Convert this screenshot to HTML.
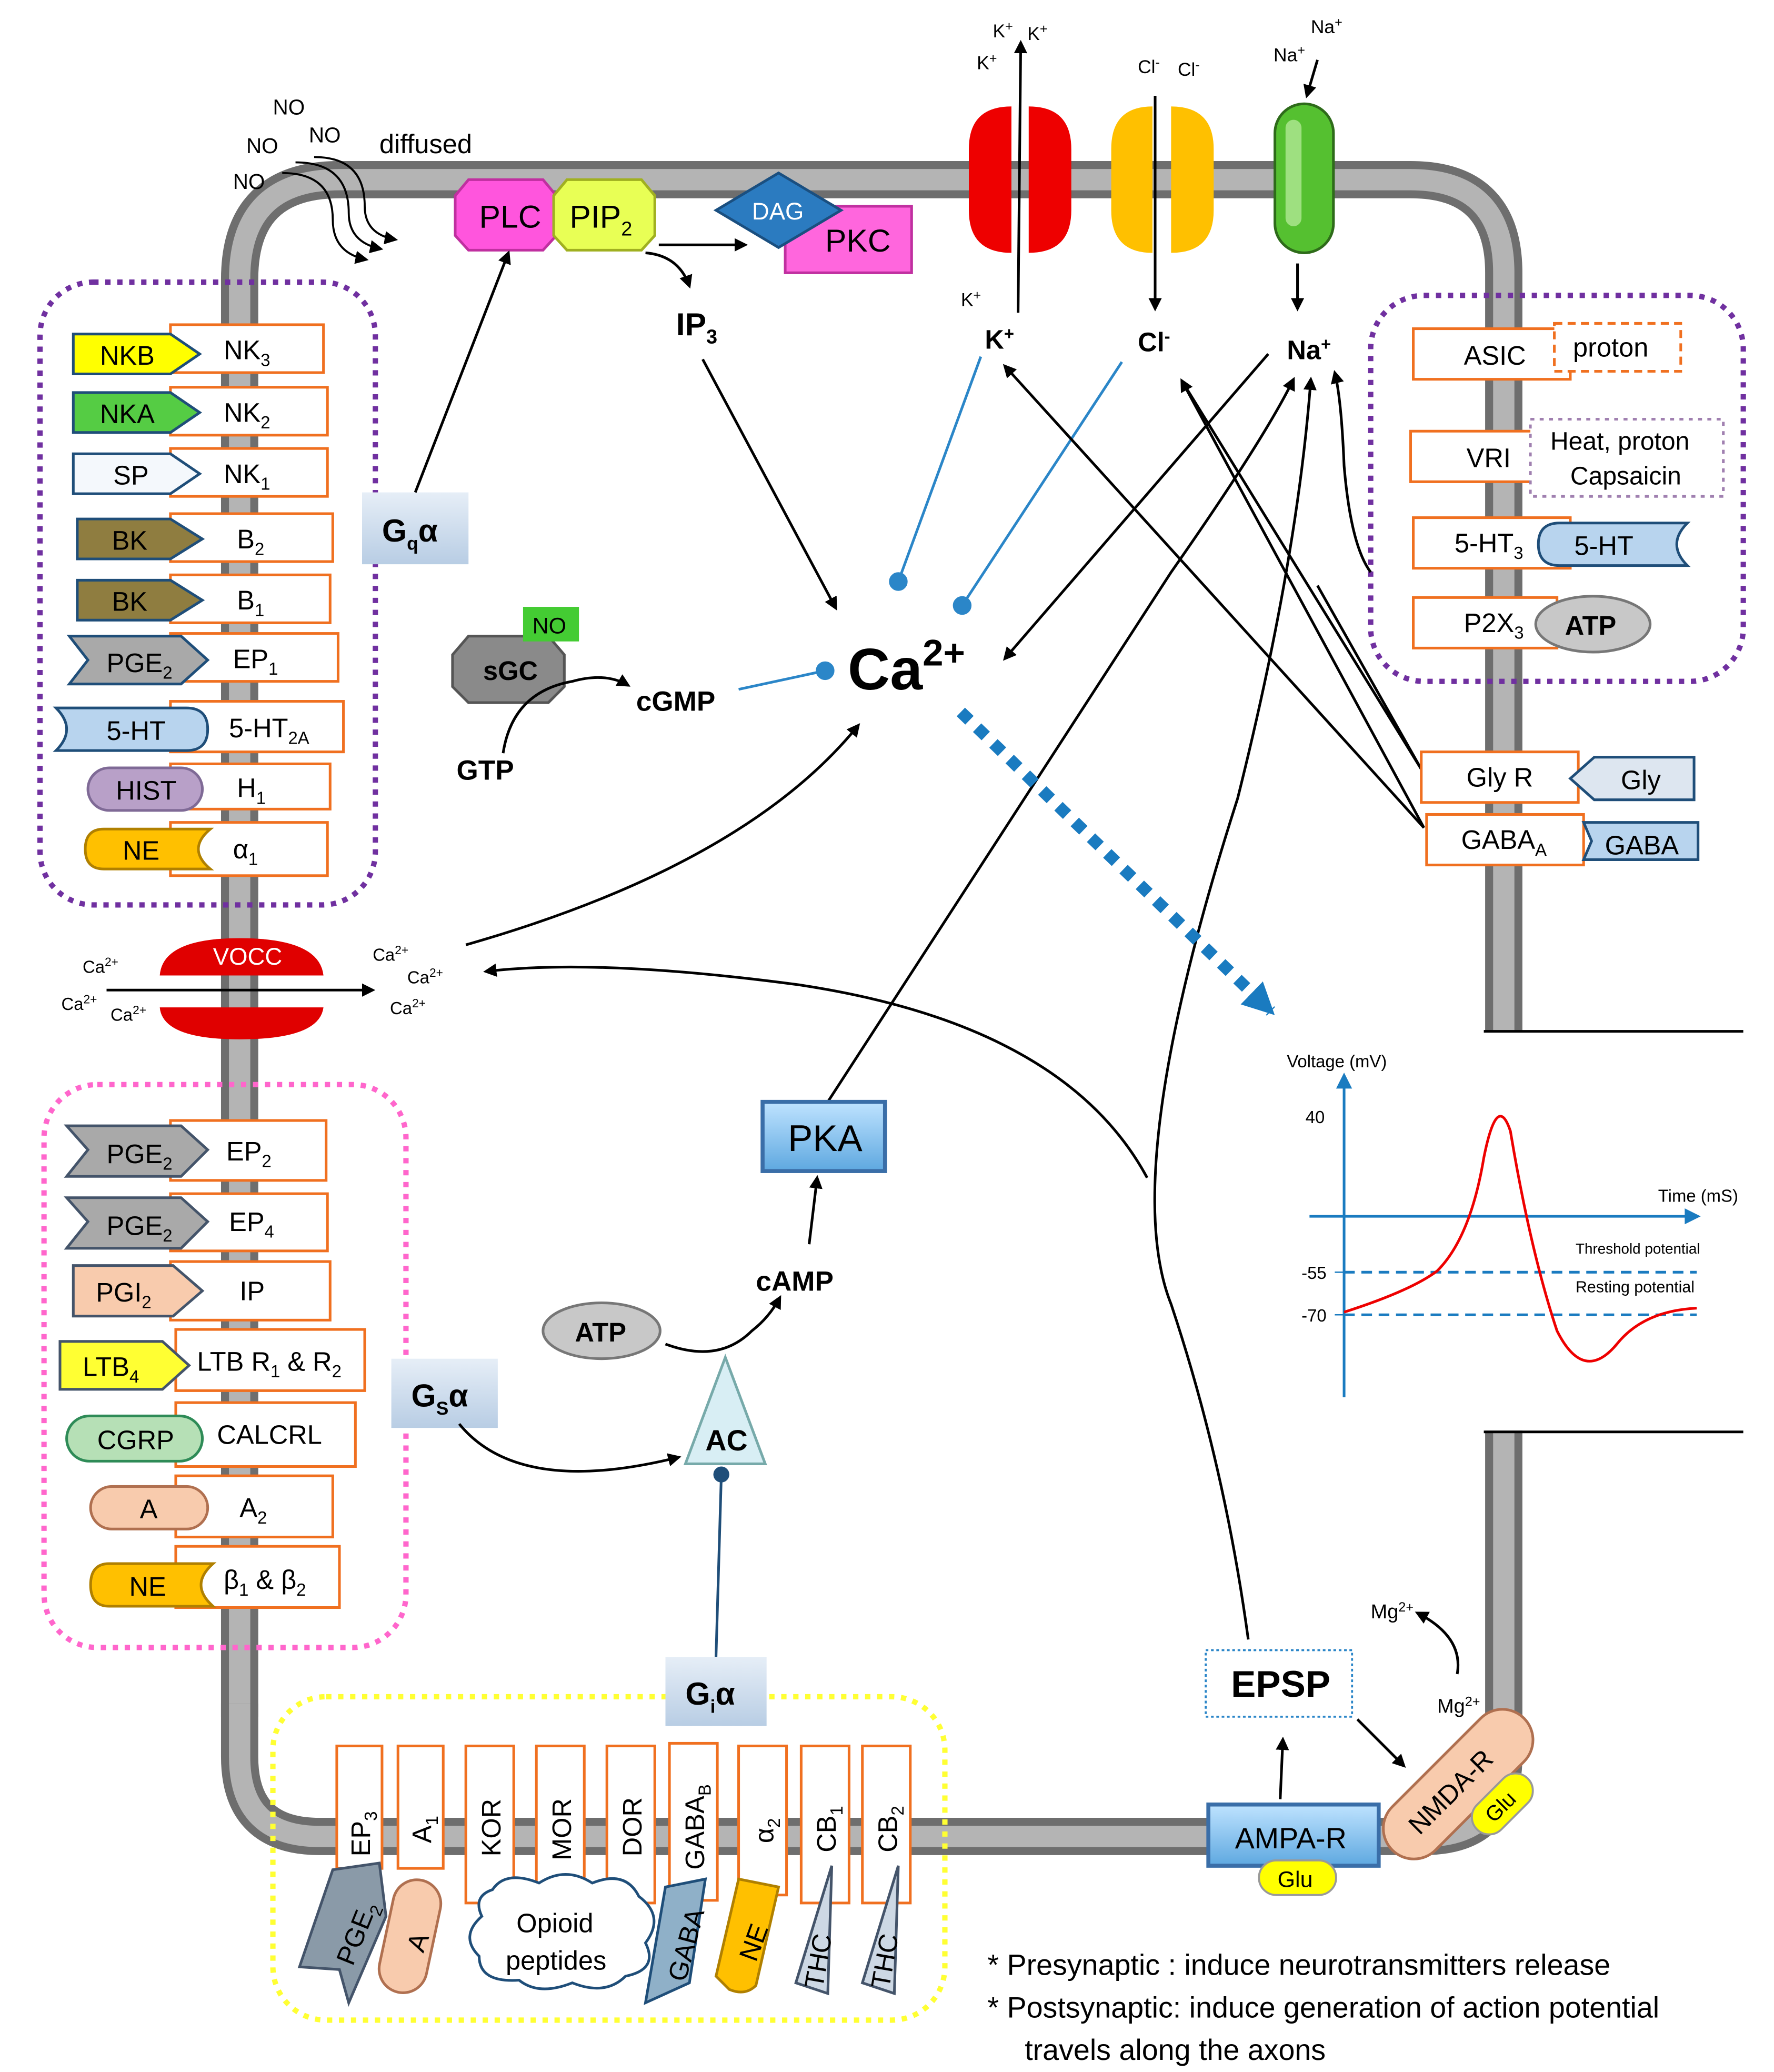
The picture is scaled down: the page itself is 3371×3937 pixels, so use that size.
<!DOCTYPE html>
<html><head><meta charset="utf-8"><style>
html,body{margin:0;padding:0;background:#fff}
svg{display:block}
text{font-family:"Liberation Sans","DejaVu Sans",sans-serif}
</style></head><body>
<svg width="3371" height="3937" viewBox="0 0 1333 1557" xmlns="http://www.w3.org/2000/svg">
<defs>
<marker id="ar" markerWidth="10" markerHeight="10" refX="8" refY="5" orient="auto" markerUnits="userSpaceOnUse"><path d="M0,0 L10,5 L0,10 z" fill="#000"/></marker>
<marker id="ab" markerWidth="24" markerHeight="24" refX="20" refY="12" orient="auto" markerUnits="userSpaceOnUse"><path d="M0,0 L24,12 L0,24 z" fill="#1a7bc0"/></marker>
<linearGradient id="gb" x1="0" y1="0" x2="0" y2="1"><stop offset="0" stop-color="#e6eef7"/><stop offset="1" stop-color="#b8cde4"/></linearGradient>
<linearGradient id="gpka" x1="0" y1="0" x2="0" y2="1"><stop offset="0" stop-color="#bfe3ff"/><stop offset="1" stop-color="#5ea8e0"/></linearGradient>
</defs>

<!-- membrane -->
<g fill="none" stroke-linejoin="round">
<path d="M180,1290 L180,210 Q180,135 255,135 L1060,135 Q1130,135 1130,205 L1130,775" stroke="#6e6e6e" stroke-width="28"/>
<path d="M180,1290 L180,210 Q180,135 255,135 L1060,135 Q1130,135 1130,205 L1130,775" stroke="#b4b4b4" stroke-width="16"/>
<path d="M1130,1075 L1130,1320 Q1130,1380 1070,1380 L240,1380 Q180,1380 180,1320 L180,1280" stroke="#6e6e6e" stroke-width="28"/>
<path d="M1130,1075 L1130,1320 Q1130,1380 1070,1380 L240,1380 Q180,1380 180,1320 L180,1280" stroke="#b4b4b4" stroke-width="16"/>
</g>
<line x1="1115" y1="775" x2="1310" y2="775" stroke="#000" stroke-width="2"/>
<line x1="1115" y1="1076" x2="1310" y2="1076" stroke="#000" stroke-width="2"/>

<!-- dotted boxes -->
<rect x="30" y="212" width="252" height="468" rx="40" fill="none" stroke="#7030a0" stroke-width="4" stroke-dasharray="4,5"/>
<rect x="33" y="815" width="272" height="423" rx="40" fill="none" stroke="#ff66cc" stroke-width="4" stroke-dasharray="4,5"/>
<rect x="205" y="1275" width="505" height="243" rx="40" fill="none" stroke="#ffff33" stroke-width="4" stroke-dasharray="4,5"/>
<rect x="1030" y="222" width="280" height="290" rx="40" fill="none" stroke="#7030a0" stroke-width="4" stroke-dasharray="4,5"/>

<!-- left top receptors -->
<g font-size="20" stroke-width="2">
<rect x="128" y="244" width="115" height="36" fill="#fff" stroke="#f07020"/><text x="168" y="270">NK<tspan font-size="13" dy="5">3</tspan></text>
<rect x="128" y="291" width="118" height="36" fill="#fff" stroke="#f07020"/><text x="168" y="317">NK<tspan font-size="13" dy="5">2</tspan></text>
<rect x="128" y="337" width="118" height="36" fill="#fff" stroke="#f07020"/><text x="168" y="363">NK<tspan font-size="13" dy="5">1</tspan></text>
<rect x="128" y="386" width="122" height="36" fill="#fff" stroke="#f07020"/><text x="178" y="412">B<tspan font-size="13" dy="5">2</tspan></text>
<rect x="128" y="432" width="120" height="36" fill="#fff" stroke="#f07020"/><text x="178" y="458">B<tspan font-size="13" dy="5">1</tspan></text>
<rect x="128" y="476" width="126" height="36" fill="#fff" stroke="#f07020"/><text x="175" y="502">EP<tspan font-size="13" dy="5">1</tspan></text>
<rect x="128" y="527" width="130" height="38" fill="#fff" stroke="#f07020"/><text x="172" y="554">5-HT<tspan font-size="13" dy="5">2A</tspan></text>
<rect x="128" y="574" width="120" height="34" fill="#fff" stroke="#f07020"/><text x="178" y="599">H<tspan font-size="13" dy="5">1</tspan></text>
<rect x="128" y="618" width="118" height="40" fill="#fff" stroke="#f07020"/><text x="175" y="645">α<tspan font-size="13" dy="5">1</tspan></text>
</g>
<g font-size="20" stroke="#1f4e79" stroke-width="2">
<path d="M55,251 H128 L150,266 L128,281 H55Z" fill="#ffff00"/>
<path d="M55,295 H128 L150,310 L128,325 H55Z" fill="#55cc44"/>
<path d="M55,341 H128 L150,356 L128,371 H55Z" fill="#f4f8fc"/>
<path d="M58,390 H128 L152,405 L128,420 H58Z" fill="#8f7d40"/>
<path d="M58,436 H128 L152,451 L128,466 H58Z" fill="#8f7d40"/>
<path d="M52,478 H136 L156,496 L136,514 H52 L66,496Z" fill="#a9a9a9"/>
<path d="M42,532 H140 Q156,532 156,548 Q156,564 140,564 H42 Q58,548 42,532Z" fill="#b8d4ee"/>
<rect x="66" y="577" width="86" height="32" rx="16" fill="#b8a0c8" stroke="#7f6a96"/>
<path d="M78,623 H158 Q140,638 158,653 H78 Q64,653 64,638 Q64,623 78,623Z" fill="#ffc000" stroke="#b08000"/>
</g>
<g font-size="20" fill="#000">
<text x="75" y="274">NKB</text><text x="75" y="318">NKA</text><text x="85" y="364">SP</text>
<text x="84" y="413">BK</text><text x="84" y="459">BK</text>
<text x="80" y="505">PGE<tspan font-size="13" dy="5">2</tspan></text>
<text x="80" y="556">5-HT</text><text x="87" y="601">HIST</text><text x="92" y="646">NE</text>
</g>

<!-- pink box receptors -->
<g font-size="20" stroke-width="2">
<rect x="128" y="842" width="117" height="45" fill="#fff" stroke="#f07020"/><text x="170" y="872">EP<tspan font-size="13" dy="5">2</tspan></text>
<rect x="128" y="897" width="118" height="43" fill="#fff" stroke="#f07020"/><text x="172" y="925">EP<tspan font-size="13" dy="5">4</tspan></text>
<rect x="128" y="948" width="120" height="44" fill="#fff" stroke="#f07020"/><text x="180" y="977">IP</text>
<rect x="132" y="999" width="142" height="46" fill="#fff" stroke="#f07020"/><text x="148" y="1030">LTB R<tspan font-size="13" dy="5">1</tspan><tspan dy="-5"> &amp; R</tspan><tspan font-size="13" dy="5">2</tspan></text>
<rect x="132" y="1054" width="135" height="48" fill="#fff" stroke="#f07020"/><text x="163" y="1085">CALCRL</text>
<rect x="132" y="1109" width="118" height="46" fill="#fff" stroke="#f07020"/><text x="180" y="1140">A<tspan font-size="13" dy="5">2</tspan></text>
<rect x="132" y="1162" width="123" height="46" fill="#fff" stroke="#f07020"/><text x="168" y="1194">β<tspan font-size="13" dy="5">1</tspan><tspan dy="-5"> &amp; β</tspan><tspan font-size="13" dy="5">2</tspan></text>
</g>
<g stroke="#44546a" stroke-width="2">
<path d="M50,846 H136 L156,864 L136,884 H50 L66,864Z" fill="#a9a9a9"/>
<path d="M50,900 H136 L156,918 L136,938 H50 L66,918Z" fill="#a9a9a9"/>
<path d="M55,951 H130 L152,970 L130,989 H55Z" fill="#f8cbad"/>
<path d="M45,1008 H122 L142,1026 L122,1044 H45Z" fill="#ffff33"/>
<rect x="50" y="1064" width="102" height="34" rx="17" fill="#b6e0b6" stroke="#2e8b57"/>
<rect x="68" y="1117" width="88" height="32" rx="16" fill="#f8cbad" stroke="#b07050"/>
<path d="M82,1175 H160 Q142,1191 160,1207 H82 Q68,1207 68,1191 Q68,1175 82,1175Z" fill="#ffc000" stroke="#b08000"/>
</g>
<g font-size="20">
<text x="80" y="874">PGE<tspan font-size="13" dy="5">2</tspan></text>
<text x="80" y="928">PGE<tspan font-size="13" dy="5">2</tspan></text>
<text x="72" y="978">PGI<tspan font-size="13" dy="5">2</tspan></text>
<text x="62" y="1034">LTB<tspan font-size="13" dy="5">4</tspan></text>
<text x="73" y="1089">CGRP</text><text x="105" y="1141">A</text><text x="97" y="1199">NE</text>
</g>

<!-- VOCC -->
<path d="M120,733 Q122,705 180,705 Q240,705 243,733Z" fill="#e00000"/>
<path d="M120,757 Q122,781 180,781 Q240,781 243,757Z" fill="#e00000"/>
<text x="160" y="725" font-size="18" fill="#fff">VOCC</text>
<line x1="80" y1="744" x2="280" y2="744" stroke="#000" stroke-width="2" marker-end="url(#ar)"/>
<g font-size="13"><text x="62" y="731">Ca<tspan font-size="9" dy="-5">2+</tspan></text><text x="46" y="759">Ca<tspan font-size="9" dy="-5">2+</tspan></text><text x="83" y="767">Ca<tspan font-size="9" dy="-5">2+</tspan></text>
<text x="280" y="722">Ca<tspan font-size="9" dy="-5">2+</tspan></text><text x="306" y="739">Ca<tspan font-size="9" dy="-5">2+</tspan></text><text x="293" y="762">Ca<tspan font-size="9" dy="-5">2+</tspan></text></g>

<!-- G proteins -->
<rect x="272" y="370" width="80" height="54" fill="url(#gb)"/><text x="287" y="407" font-size="24" font-weight="bold">G<tspan font-size="14" dy="6">q</tspan><tspan dy="-6">α</tspan></text>
<rect x="294" y="1021" width="80" height="52" fill="url(#gb)"/><text x="309" y="1057" font-size="24" font-weight="bold">G<tspan font-size="14" dy="6">S</tspan><tspan dy="-6">α</tspan></text>
<rect x="500" y="1245" width="76" height="52" fill="url(#gb)"/><text x="515" y="1281" font-size="24" font-weight="bold">G<tspan font-size="14" dy="6">i</tspan><tspan dy="-6">α</tspan></text>

<!-- NO -->
<g font-size="16"><text x="205" y="86">NO</text><text x="185" y="115">NO</text><text x="232" y="107">NO</text><text x="175" y="142">NO</text></g>
<text x="285" y="115" font-size="20">diffused</text>
<g fill="none" stroke="#000" stroke-width="1.5">
<path d="M212,130 Q250,130 250,165 Q250,190 275,195" marker-end="url(#ar)"/>
<path d="M222,122 Q262,122 262,160 Q262,182 286,187" marker-end="url(#ar)"/>
<path d="M236,118 Q274,118 274,155 Q274,176 297,180" marker-end="url(#ar)"/>
</g>

<!-- PLC PIP2 DAG PKC -->
<path d="M352,135 H408 L418,147 V177 L408,188 H352 L342,177 V147Z" fill="#ff55dd" stroke="#c030a0" stroke-width="2"/>
<text x="360" y="171" font-size="24">PLC</text>
<path d="M426,135 H482 L492,147 V177 L482,188 H426 L416,177 V147Z" fill="#e8ff55" stroke="#a0b020" stroke-width="2"/>
<text x="428" y="171" font-size="24">PIP<tspan font-size="15" dy="6">2</tspan></text>
<rect x="590" y="155" width="95" height="50" fill="#ff66dd" stroke="#c030a0" stroke-width="2"/>
<text x="620" y="189" font-size="24">PKC</text>
<path d="M538,158 L585,130 L632,158 L585,186Z" fill="#2b7bc0" stroke="#1a4f80" stroke-width="2"/>
<text x="565" y="165" font-size="18" fill="#fff">DAG</text>
<line x1="495" y1="184" x2="560" y2="184" stroke="#000" stroke-width="2" marker-end="url(#ar)"/>
<path d="M485,190 Q510,192 518,215" fill="none" stroke="#000" stroke-width="2" marker-end="url(#ar)"/>
<text x="508" y="252" font-size="24" font-weight="bold">IP<tspan font-size="15" dy="6">3</tspan></text>
<line x1="312" y1="370" x2="382" y2="190" stroke="#000" stroke-width="2" marker-end="url(#ar)"/>
<line x1="528" y1="270" x2="628" y2="457" stroke="#000" stroke-width="2" marker-end="url(#ar)"/>

<!-- channels -->
<path d="M760,80 Q728,80 728,112 V158 Q728,190 760,190Z" fill="#ee0000"/>
<path d="M773,80 Q805,80 805,112 V158 Q805,190 773,190Z" fill="#ee0000"/>
<path d="M866,80 Q835,80 835,112 V158 Q835,190 866,190Z" fill="#ffc000"/>
<path d="M880,80 Q912,80 912,112 V158 Q912,190 880,190Z" fill="#ffc000"/>
<rect x="958" y="78" width="44" height="112" rx="22" fill="#55c030" stroke="#2e6b1a" stroke-width="2"/>
<rect x="966" y="90" width="12" height="80" rx="6" fill="#9ee080"/>
<line x1="765" y1="235" x2="767" y2="32" stroke="#000" stroke-width="2" marker-end="url(#ar)"/>
<line x1="868" y1="72" x2="868" y2="232" stroke="#000" stroke-width="2" marker-end="url(#ar)"/>
<line x1="990" y1="45" x2="982" y2="72" stroke="#000" stroke-width="2" marker-end="url(#ar)"/>
<line x1="975" y1="198" x2="975" y2="232" stroke="#000" stroke-width="2" marker-end="url(#ar)"/>
<g font-size="14"><text x="746" y="28">K<tspan font-size="10" dy="-5">+</tspan></text><text x="772" y="30">K<tspan font-size="10" dy="-5">+</tspan></text><text x="734" y="52">K<tspan font-size="10" dy="-5">+</tspan></text><text x="722" y="230">K<tspan font-size="10" dy="-5">+</tspan></text>
<text x="855" y="55">Cl<tspan font-size="10" dy="-5">-</tspan></text><text x="885" y="57">Cl<tspan font-size="10" dy="-5">-</tspan></text>
<text x="985" y="25">Na<tspan font-size="10" dy="-5">+</tspan></text><text x="957" y="46">Na<tspan font-size="10" dy="-5">+</tspan></text></g>
<g font-size="20" font-weight="bold"><text x="740" y="262">K<tspan font-size="13" dy="-7">+</tspan></text><text x="855" y="264">Cl<tspan font-size="13" dy="-7">-</tspan></text><text x="967" y="270">Na<tspan font-size="13" dy="-7">+</tspan></text></g>

<!-- blue inhibit lines -->
<g stroke="#2b86c8" stroke-width="2" fill="#2b86c8">
<line x1="737" y1="268" x2="675" y2="437"/><circle cx="675" cy="437" r="6"/>
<line x1="843" y1="272" x2="723" y2="455"/><circle cx="723" cy="455" r="6"/>
<line x1="555" y1="518" x2="620" y2="504"/><circle cx="620" cy="504" r="6"/>
</g>
<text x="637" y="518" font-size="44" font-weight="bold">Ca<tspan font-size="28" dy="-18">2+</tspan></text>

<!-- sGC -->
<path d="M352,478 H412 L424,492 V516 L412,528 H352 L340,516 V492Z" fill="#8a8a8a" stroke="#555" stroke-width="2"/>
<text x="363" y="511" font-size="20" font-weight="bold" fill="#000">sGC</text>
<rect x="393" y="456" width="42" height="26" fill="#44cc33"/><text x="400" y="476" font-size="17">NO</text>
<path d="M378,566 Q385,520 430,512 Q455,505 472,515" fill="none" stroke="#000" stroke-width="2" marker-end="url(#ar)"/>
<text x="343" y="586" font-size="21" font-weight="bold">GTP</text>
<text x="478" y="534" font-size="21" font-weight="bold">cGMP</text>

<!-- arrows to Ca -->
<path d="M350,710 Q560,650 645,545" fill="none" stroke="#000" stroke-width="2" marker-end="url(#ar)"/>
<path d="M862,885 Q800,770 600,740 Q450,720 365,730" fill="none" stroke="#000" stroke-width="2" marker-end="url(#ar)"/>
<line x1="953" y1="266" x2="755" y2="495" stroke="#000" stroke-width="2" marker-end="url(#ar)"/>
<path d="M622,828 L880,430 Q950,330 972,285" fill="none" stroke="#000" stroke-width="2" marker-end="url(#ar)"/>
<path d="M938,1232 Q920,1100 880,980 Q840,880 930,600 Q975,420 985,285" fill="none" stroke="#000" stroke-width="2" marker-end="url(#ar)"/>
<path d="M1030,430 Q1015,410 1010,350 Q1008,300 1003,280" fill="none" stroke="#000" stroke-width="2" marker-end="url(#ar)"/>
<line x1="1070" y1="622" x2="755" y2="275" stroke="#000" stroke-width="2" marker-end="url(#ar)"/>
<line x1="1070" y1="622" x2="888" y2="286" stroke="#000" stroke-width="2" marker-end="url(#ar)"/>
<line x1="1068" y1="578" x2="888" y2="286" stroke="#000" stroke-width="2"/>
<line x1="1068" y1="578" x2="990" y2="440" stroke="#000" stroke-width="2"/>
<line x1="722" y1="535" x2="955" y2="760" stroke="#1a7bc0" stroke-width="9" stroke-dasharray="9,8" marker-end="url(#ab)"/>

<!-- right box -->
<g font-size="20" stroke-width="2">
<rect x="1062" y="247" width="118" height="38" fill="#fff" stroke="#f07020"/><text x="1100" y="274">ASIC</text>
<rect x="1168" y="243" width="95" height="36" fill="#fff" stroke="#f07020" stroke-dasharray="6,4"/><text x="1182" y="268">proton</text>
<rect x="1060" y="324" width="100" height="38" fill="#fff" stroke="#f07020"/><text x="1102" y="351">VRI</text>
<rect x="1150" y="315" width="145" height="58" fill="#fff" stroke="#a080b0" stroke-dasharray="3,4"/><text x="1165" y="338" font-size="19">Heat, proton</text><text x="1180" y="364" font-size="19">Capsaicin</text>
<rect x="1062" y="389" width="118" height="38" fill="#fff" stroke="#f07020"/><text x="1093" y="415">5-HT<tspan font-size="13" dy="5">3</tspan></text>
<rect x="1062" y="449" width="108" height="38" fill="#fff" stroke="#f07020"/><text x="1100" y="475">P2X<tspan font-size="13" dy="5">3</tspan></text>
</g>
<path d="M1172,393 H1268 Q1252,409 1268,425 H1172 Q1156,425 1156,409 Q1156,393 1172,393Z" fill="#b8d4ee" stroke="#1f4e79" stroke-width="2"/>
<text x="1183" y="417" font-size="20">5-HT</text>
<ellipse cx="1197" cy="469" rx="43" ry="21" fill="#c8c8c8" stroke="#777" stroke-width="2"/>
<text x="1176" y="477" font-size="20" font-weight="bold">ATP</text>

<g font-size="20" stroke-width="2">
<rect x="1068" y="565" width="118" height="38" fill="#fff" stroke="#f07020"/><text x="1102" y="591">Gly R</text>
<rect x="1072" y="612" width="118" height="38" fill="#fff" stroke="#f07020"/><text x="1098" y="638">GABA<tspan font-size="13" dy="5">A</tspan></text>
</g>
<path d="M1180,585 L1198,569 H1273 V601 H1198Z" fill="#dde6f0" stroke="#1f4e79" stroke-width="2"/><text x="1218" y="593" font-size="20">Gly</text>
<path d="M1190,618 H1276 V646 H1190 L1196,632Z" fill="#b8d4ee" stroke="#1f4e79" stroke-width="2"/><text x="1206" y="642" font-size="20">GABA</text>

<!-- graph -->
<g font-size="13">
<text x="967" y="802">Voltage (mV)</text>
<line x1="1010" y1="1050" x2="1010" y2="812" stroke="#1a7bc0" stroke-width="2"/><path d="M1004,818 L1010,806 L1016,818Z" fill="#1a7bc0"/>
<line x1="984" y1="914" x2="1270" y2="914" stroke="#1a7bc0" stroke-width="2"/><path d="M1266,908 L1278,914 L1266,920Z" fill="#1a7bc0"/>
<text x="1246" y="903">Time (mS)</text>
<text x="981" y="844">40</text><text x="978" y="961">-55</text><text x="978" y="993">-70</text>
<line x1="1003" y1="956" x2="1015" y2="956" stroke="#1a7bc0"/><line x1="1003" y1="988" x2="1015" y2="988" stroke="#1a7bc0"/>
<line x1="1010" y1="956" x2="1275" y2="956" stroke="#1a7bc0" stroke-width="2" stroke-dasharray="8,5"/>
<line x1="1010" y1="988" x2="1275" y2="988" stroke="#1a7bc0" stroke-width="2" stroke-dasharray="8,5"/>
<text x="1184" y="942" font-size="11">Threshold potential</text>
<text x="1184" y="971" font-size="12">Resting potential</text>
<path d="M1010,986 Q1060,970 1080,955 Q1105,930 1115,870 Q1125,820 1135,850 Q1150,940 1170,1000 Q1190,1040 1215,1010 Q1235,985 1275,983" fill="none" stroke="#ee0000" stroke-width="2"/>
</g>

<!-- PKA cAMP AC -->
<rect x="573" y="828" width="92" height="52" fill="url(#gpka)" stroke="#3a6ea8" stroke-width="3"/>
<text x="592" y="865" font-size="28">PKA</text>
<line x1="608" y1="935" x2="614" y2="885" stroke="#000" stroke-width="2" marker-end="url(#ar)"/>
<text x="568" y="970" font-size="21" font-weight="bold">cAMP</text>
<ellipse cx="452" cy="1000" rx="44" ry="21" fill="#c8c8c8" stroke="#777" stroke-width="2"/>
<text x="432" y="1008" font-size="20" font-weight="bold">ATP</text>
<path d="M500,1010 Q540,1025 565,1000 Q578,990 586,975" fill="none" stroke="#000" stroke-width="2" marker-end="url(#ar)"/>
<path d="M545,1020 L515,1100 L575,1100Z" fill="#d8eef4" stroke="#7aa" stroke-width="2"/>
<text x="530" y="1090" font-size="22" font-weight="bold">AC</text>
<path d="M345,1070 Q390,1125 510,1095" fill="none" stroke="#000" stroke-width="2" marker-end="url(#ar)"/>
<line x1="538" y1="1245" x2="542" y2="1108" stroke="#1f4e79" stroke-width="2"/><circle cx="542" cy="1108" r="6" fill="#1f4e79"/>

<!-- bottom receptors -->
<g font-size="20" stroke-width="2">
<rect x="253" y="1312" width="34" height="92" fill="#fff" stroke="#f07020"/>
<rect x="299" y="1312" width="34" height="92" fill="#fff" stroke="#f07020"/>
<rect x="350" y="1312" width="36" height="118" fill="#fff" stroke="#f07020"/>
<rect x="403" y="1312" width="36" height="118" fill="#fff" stroke="#f07020"/>
<rect x="456" y="1312" width="36" height="118" fill="#fff" stroke="#f07020"/>
<rect x="503" y="1310" width="36" height="118" fill="#fff" stroke="#f07020"/>
<rect x="555" y="1312" width="36" height="112" fill="#fff" stroke="#f07020"/>
<rect x="602" y="1312" width="36" height="118" fill="#fff" stroke="#f07020"/>
<rect x="648" y="1312" width="36" height="118" fill="#fff" stroke="#f07020"/>
</g>
<g font-size="20">
<text transform="translate(278,1395) rotate(-90)">EP<tspan font-size="13" dy="5">3</tspan></text>
<text transform="translate(324,1385) rotate(-90)">A<tspan font-size="13" dy="5">1</tspan></text>
<text transform="translate(376,1395) rotate(-90)">KOR</text>
<text transform="translate(429,1398) rotate(-90)">MOR</text>
<text transform="translate(482,1395) rotate(-90)">DOR</text>
<text transform="translate(529,1405) rotate(-90)">GABA<tspan font-size="13" dy="5">B</tspan></text>
<text transform="translate(581,1385) rotate(-90)">α<tspan font-size="13" dy="5">2</tspan></text>
<text transform="translate(628,1392) rotate(-90)">CB<tspan font-size="13" dy="5">1</tspan></text>
<text transform="translate(674,1392) rotate(-90)">CB<tspan font-size="13" dy="5">2</tspan></text>
</g>
<g stroke-width="2">
<path d="M250,1405 L285,1400 L290,1440 L262,1505 L255,1480 L225,1478Z" fill="#8a9aa8" stroke="#44546a"/>
<rect x="290" y="1412" width="36" height="86" rx="18" transform="rotate(12 308 1455)" fill="#f8cbad" stroke="#b07050"/>
<path d="M370,1420 Q380,1405 405,1415 Q425,1402 445,1415 Q470,1405 480,1425 Q500,1440 485,1460 Q495,1480 470,1485 Q455,1500 430,1490 Q405,1500 390,1488 Q360,1490 360,1470 Q345,1455 362,1440 Q355,1425 370,1420Z" fill="#fff" stroke="#1f4e79"/>
<path d="M500,1418 L530,1412 L518,1490 L485,1505Z" fill="#8fb0c8" stroke="#1f4e79"/>
<path d="M555,1412 L585,1418 L568,1492 Q560,1500 548,1495 L538,1485Z" fill="#ffc000" stroke="#b08000"/>
<path d="M625,1402 L622,1498 L598,1490Z" fill="#cdd8e4" stroke="#44546a"/>
<path d="M675,1402 L672,1498 L648,1490Z" fill="#cdd8e4" stroke="#44546a"/>
</g>
<g font-size="20">
<text transform="translate(265,1478) rotate(-68)">PGE<tspan font-size="13" dy="5">2</tspan></text>
<text transform="translate(318,1468) rotate(-70)">A</text>
<text x="388" y="1452">Opioid</text><text x="380" y="1480">peptides</text>
<text transform="translate(515,1490) rotate(-75)">GABA</text>
<text transform="translate(568,1475) rotate(-70)">NE</text>
<text transform="translate(618,1495) rotate(-80)">THC</text>
<text transform="translate(668,1495) rotate(-80)">THC</text>
</g>

<!-- AMPA NMDA EPSP -->
<rect x="908" y="1356" width="128" height="46" fill="url(#gpka)" stroke="#3a6ea8" stroke-width="3"/>
<text x="928" y="1389" font-size="22">AMPA-R</text>
<rect x="946" y="1398" width="58" height="26" rx="13" fill="#ffff00" stroke="#999" stroke-width="1.5"/><text x="960" y="1418" font-size="17">Glu</text>
<g transform="translate(1095,1340) rotate(-45)">
<rect x="-70" y="-22" width="140" height="46" rx="23" fill="#f8cbad" stroke="#b07050" stroke-width="2"/>
<text x="-48" y="8" font-size="20">NMDA-R</text>
<rect x="-14" y="22" width="54" height="26" rx="13" fill="#ffff00" stroke="#999" stroke-width="1.5"/><text x="-2" y="41" font-size="16">Glu</text>
</g>
<rect x="906" y="1240" width="110" height="50" fill="#fff" stroke="#2b86c8" stroke-width="1.5" stroke-dasharray="2,2"/>
<text x="925" y="1275" font-size="28" font-weight="bold">EPSP</text>
<line x1="962" y1="1352" x2="964" y2="1307" stroke="#000" stroke-width="2" marker-end="url(#ar)"/>
<line x1="1020" y1="1292" x2="1055" y2="1327" stroke="#000" stroke-width="2" marker-end="url(#ar)"/>
<path d="M1095,1258 Q1100,1230 1065,1212" fill="none" stroke="#000" stroke-width="2" marker-end="url(#ar)"/>
<g font-size="15"><text x="1030" y="1216">Mg<tspan font-size="10" dy="-5">2+</tspan></text><text x="1080" y="1287">Mg<tspan font-size="10" dy="-5">2+</tspan></text></g>

<g font-size="22"><text x="742" y="1484">* Presynaptic : induce neurotransmitters release</text>
<text x="742" y="1516">* Postsynaptic: induce generation of action potential</text>
<text x="770" y="1548">travels along the axons</text></g>
</svg>
</body></html>
